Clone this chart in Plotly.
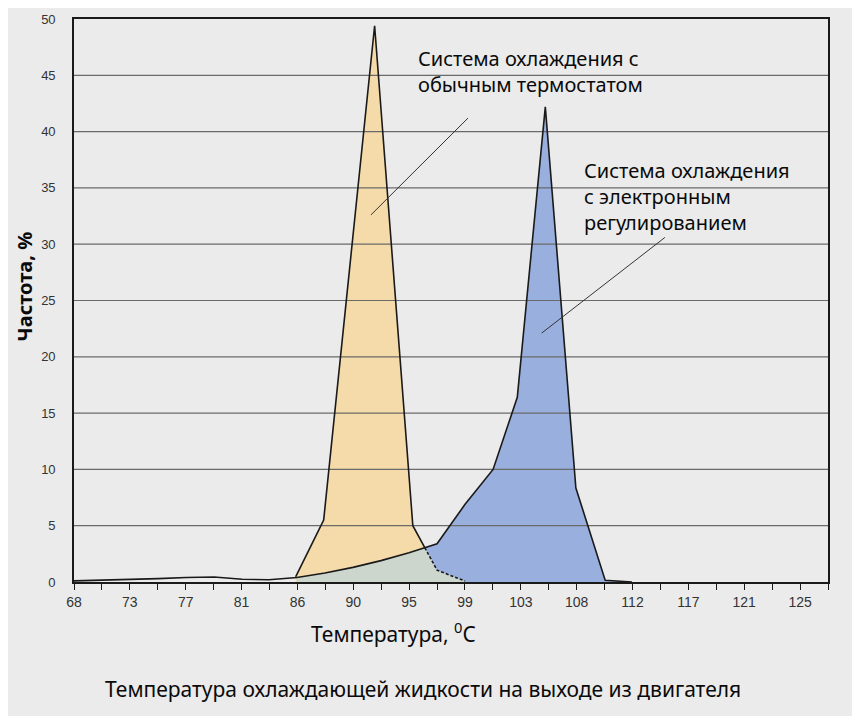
import numpy as np
import plotly.graph_objects as go

# ---- data ----
# system with electronic control (blue)
blue_t = [68.0, 70.2, 72.4, 74.6, 76.8, 79.0, 81.2, 83.3, 85.5, 87.7, 89.9,
          92.1, 94.3, 96.5, 98.7, 100.9, 102.8, 105.0, 107.4, 109.7, 111.8]
blue_v = [0.1, 0.15, 0.25, 0.3, 0.4, 0.45, 0.25, 0.2, 0.4, 0.8, 1.3,
          1.9, 2.6, 3.4, 6.9, 10.0, 16.4, 42.2, 8.35, 0.15, 0.0]

# system with conventional thermostat (orange)
orange_t = [85.4, 87.6, 91.6, 94.6, 96.5, 98.7]
orange_v = [0.45, 5.5, 49.4, 5.0, 1.05, 0.08]

x_tick_labels = ["68", "73", "77", "81", "86", "90", "95", "99", "103",
                 "108", "112", "117", "121", "125"]
y_ticks = [0, 5, 10, 15, 20, 25, 30, 35, 40, 45, 50]

X_FIRST, X_LAST = 68.0, 125.0
step = (X_LAST - X_FIRST) / (len(x_tick_labels) - 1)
x_min, x_max = X_FIRST, X_LAST + step / 2

# ---- colours ----
BG = "#ebebeb"
ORANGE = "#f5dba9"
BLUE = "#99afdd"
OVERLAP = "#ccd6cc"
GRID = "#6a6a6a"
INK = "#1a1a1a"


def seg_intersection(p1, p2, p3, p4):
    (x1, y1), (x2, y2), (x3, y3), (x4, y4) = p1, p2, p3, p4
    d = (x1 - x2) * (y3 - y4) - (y1 - y2) * (x3 - x4)
    if d == 0:
        return None
    t = ((x1 - x3) * (y3 - y4) - (y1 - y3) * (x3 - x4)) / d
    u = ((x1 - x3) * (y1 - y2) - (y1 - y3) * (x1 - x2)) / d
    if 0 <= t <= 1 and 0 <= u <= 1:
        return (x1 + t * (x2 - x1), y1 + t * (y2 - y1))
    return None


# crossing of the falling orange flank with the blue curve
peak_i = int(np.argmax(orange_v))
cross = None
for i in range(peak_i, len(orange_t) - 1):
    for j in range(len(blue_t) - 1):
        c = seg_intersection((orange_t[i], orange_v[i]), (orange_t[i + 1], orange_v[i + 1]),
                             (blue_t[j], blue_v[j]), (blue_t[j + 1], blue_v[j + 1]))
        if c is not None:
            cross = c
            break
    if cross is not None:
        break
xc, yc = cross

# overlap region: blue below orange up to the crossing, then orange below blue
ov_x = [t for t in blue_t if orange_t[0] <= t < xc] + [xc] + [t for t in orange_t if t > xc]
ov_y = [v for t, v in zip(blue_t, blue_v) if orange_t[0] <= t < xc] + [yc] + \
       [v for t, v in zip(orange_t, orange_v) if t > xc]

or_solid_x = [t for t in orange_t if t < xc] + [xc]
or_solid_y = [v for t, v in zip(orange_t, orange_v) if t < xc] + [yc]
or_dash_x = [xc] + [t for t in orange_t if t > xc]
or_dash_y = [yc] + [v for t, v in zip(orange_t, orange_v) if t > xc]

blue_fill_x = [t for t in blue_t if t >= orange_t[0]]
blue_fill_y = [v for t, v in zip(blue_t, blue_v) if t >= orange_t[0]]

fig = go.Figure()
fig.add_trace(go.Scatter(x=orange_t, y=orange_v, fill="tozeroy", fillcolor=ORANGE,
                         mode="none", hoverinfo="skip"))
fig.add_trace(go.Scatter(x=blue_fill_x, y=blue_fill_y, fill="tozeroy", fillcolor=BLUE,
                         mode="none", hoverinfo="skip"))
fig.add_trace(go.Scatter(x=ov_x, y=ov_y, fill="tozeroy", fillcolor=OVERLAP,
                         mode="none", hoverinfo="skip"))

# grid lines above fills
gx, gy = [], []
for v in y_ticks[1:-1]:
    gx += [x_min, x_max, None]
    gy += [v, v, None]
fig.add_trace(go.Scatter(x=gx, y=gy, mode="lines", line=dict(color=GRID, width=1.2),
                         hoverinfo="skip"))

fig.add_trace(go.Scatter(x=blue_t, y=blue_v, mode="lines",
                         line=dict(color=INK, width=1.6), hoverinfo="skip"))
fig.add_trace(go.Scatter(x=or_solid_x, y=or_solid_y, mode="lines",
                         line=dict(color=INK, width=1.6), hoverinfo="skip"))
fig.add_trace(go.Scatter(x=or_dash_x, y=or_dash_y, mode="lines",
                         line=dict(color=INK, width=1.6, dash="3px,2px"), hoverinfo="skip"))

FONT = "Noto Sans"

# the page body adds an 8px offset, so the figure is sized to fit the window
fig.update_layout(
    width=852, height=708,
    margin=dict(l=66, r=32, t=4, b=134),
    paper_bgcolor=BG, plot_bgcolor=BG,
    showlegend=False,
    xaxis=dict(
        range=[x_min, x_max], tickmode="array",
        tickvals=list(np.linspace(X_FIRST, X_LAST, len(x_tick_labels))),
        ticktext=x_tick_labels,
        ticks="outside", ticklen=6, tickwidth=1.2, tickcolor=INK,
        minor=dict(ticks="outside", ticklen=6, tickwidth=1.2, tickcolor=INK,
                   tick0=X_FIRST, dtick=step / 2, showgrid=False),
        showgrid=False, zeroline=False,
        showline=True, linecolor=INK, linewidth=1.6, mirror=True,
        tickfont=dict(family="Liberation Sans Narrow, Liberation Sans", size=14, color="#333333"),
        ticklabeloverflow="allow",
        layer="above traces",
    ),
    yaxis=dict(
        range=[0, 50], tickmode="array", tickvals=y_ticks,
        showgrid=False, zeroline=False, ticks="",
        showline=True, linecolor=INK, linewidth=1.6, mirror=True,
        tickfont=dict(family="Liberation Sans", size=13, color="#333333"),
        ticklabelstandoff=14, ticklabeloverflow="allow",
        layer="above traces",
    ),
)

ann_font = dict(family=FONT, size=20, color="#0a0a0a")
fig.add_annotation(xref="paper", yref="paper", x=0.4536, y=0.958,
                   xanchor="left", yanchor="top", align="left", showarrow=False,
                   text="Система охлаждения с<br>обычным термостатом", font=ann_font)
fig.add_annotation(xref="paper", yref="paper", x=0.6731, y=0.758,
                   xanchor="left", yanchor="top", align="left", showarrow=False,
                   text="Система охлаждения<br>с электронным<br>регулированием", font=ann_font)

# pointer lines
fig.add_shape(type="line", xref="x", yref="y", x0=91.31, y0=32.6, x1=98.93, y1=41.2,
              line=dict(color="#333333", width=1))
fig.add_shape(type="line", xref="x", yref="y", x0=104.71, y0=22.1, x1=114.39, y1=30.6,
              line=dict(color="#333333", width=1))

# axis titles and caption
fig.add_annotation(xref="paper", yref="paper", x=-0.065, y=0.5246, textangle=-90,
                   xanchor="center", yanchor="middle", showarrow=False,
                   text="<b>Частота, %</b>", font=dict(family=FONT, size=20, color="#0a0a0a"))
fig.add_annotation(xref="paper", yref="paper", x=0.4244, y=-0.0895,
                   xanchor="center", yanchor="middle", showarrow=False,
                   text="Температура, <sup>0</sup>C", font=dict(family=FONT, size=21, color="#0a0a0a"))
fig.add_annotation(xref="paper", yref="paper", x=0.4629, y=-0.1895,
                   xanchor="center", yanchor="middle", showarrow=False,
                   text="Температура охлаждающей жидкости на выходе из двигателя",
                   font=dict(family=FONT, size=21, color="#0a0a0a"))

fig.write_html("out.html")
